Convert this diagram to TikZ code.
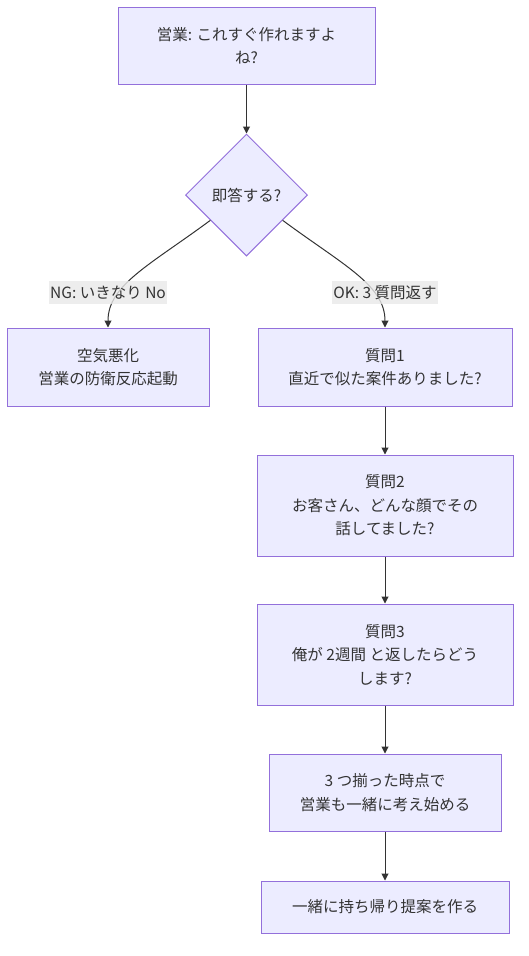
\documentclass[tikz,border=0pt]{standalone}
\usepackage{fontspec}
\setmainfont{Noto Sans CJK JP}
\usetikzlibrary{shapes.geometric,arrows.meta}
\definecolor{boxfill}{HTML}{ECECFF}
\definecolor{boxline}{HTML}{9370DB}
\definecolor{ink}{HTML}{333333}
\definecolor{labelbg}{HTML}{E8E8E8}

\begin{document}
\begin{tikzpicture}[x=1pt,y=-1pt,>={Triangle[length=7pt,width=7pt]},
  every node/.style={text=ink,font=\fontsize{15.5pt}{23.5pt}\selectfont,align=center},
  box/.style={draw=boxline,fill=boxfill,line width=1pt,rectangle,inner sep=0pt},
  choice/.style={draw=boxline,fill=boxfill,line width=1pt,diamond,inner sep=0pt,minimum width=122pt,minimum height=122pt},
  edge/.style={->,draw=ink,line width=1pt},
  edgelabel/.style={fill=labelbg,fill opacity=0.8,text opacity=1,inner xsep=1pt,inner ysep=0pt,minimum height=23pt}]
  \useasboundingbox (0,0) rectangle (529,956);
  \node[box,minimum width=257pt,minimum height=77pt] (ask) at (246.5,46) {営業: これすぐ作れますよ\\ね?};
  \node[choice] (decide) at (246.5,195) {即答する?};
  \node[box,minimum width=202pt,minimum height=78pt] (ng) at (108,367) {空気悪化\\営業の防衛反応起動};
  \node[box,minimum width=254pt,minimum height=78pt] (q1) at (385,367) {質問1\\直近で似た案件ありました?};
  \node[box,minimum width=256pt,minimum height=101pt] (q2) at (385,505.5) {質問2\\お客さん、どんな顔でその\\話してました?};
  \node[box,minimum width=256pt,minimum height=101pt] (q3) at (385,654.5) {質問3\\俺が 2週間 と返したらどう\\します?};
  \node[box,minimum width=232pt,minimum height=77pt] (together) at (385,792.5) {3 つ揃った時点で\\営業も一緒に考え始める};
  \node[box,minimum width=248pt,minimum height=52pt] (propose) at (385,907) {一緒に持ち帰り提案を作る};
  \draw[edge] (ask) -- (decide);
  \draw[edge] (decide.215) .. controls (150,265) and (108,285) .. (ng);
  \draw[edge] (decide.325) .. controls (343,265) and (385,285) .. (q1);
  \draw[edge] (q1) -- (q2);
  \draw[edge] (q2) -- (q3);
  \draw[edge] (q3) -- (together);
  \draw[edge] (together) -- (propose);
  \node[edgelabel] (nglabel) at (108,292.5) {NG: いきなり No};
  \node[edgelabel] (oklabel) at (385,292.5) {OK: 3 質問返す};
\end{tikzpicture}
\end{document}
